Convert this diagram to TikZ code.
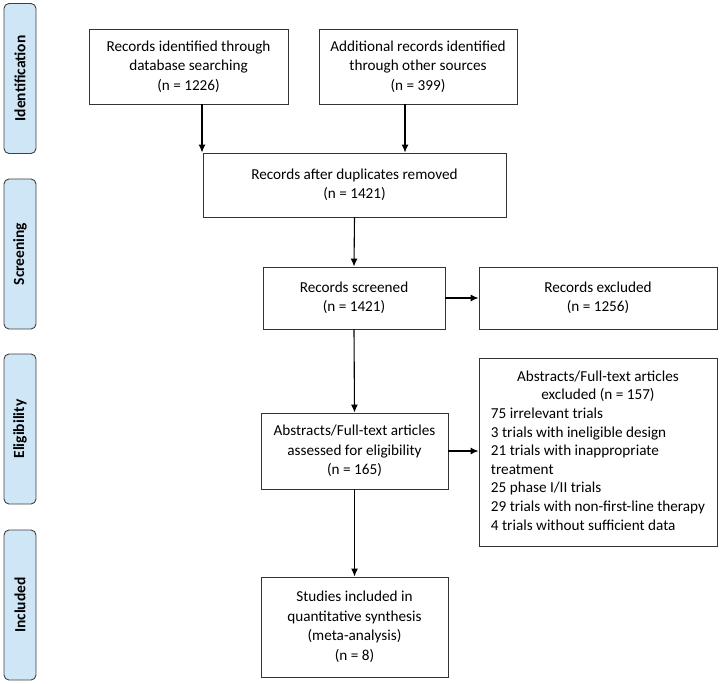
\documentclass[tikz,border=0pt]{standalone}
\usepackage{fontspec}
\setmainfont{Carlito}
\usepackage{tikz}
\usetikzlibrary{arrows.meta}
\definecolor{phaseblue}{RGB}{207,230,247}

\begin{document}
\begin{tikzpicture}[x=1pt,y=-1pt,
	box/.style={draw=black!80,line width=0.9pt,align=center,inner sep=4pt,
		font=\fontsize{15.2}{19.5}\selectfont},
	phase/.style={draw=black!75,line width=0.9pt,fill=phaseblue,rounded corners=5pt,
		minimum width=32pt,minimum height=150pt},
	phasetext/.style={rotate=90,font=\fontsize{15.5}{18}\selectfont\bfseries},
	arr/.style={line width=1.1pt,-{Latex[length=8pt,width=7pt]}}]
	\useasboundingbox (0,0) rectangle (722,684);
	% phases on the left
	\node[phase] (ident) at (20,78.5) {};
	\node[phasetext] at (ident) {Identification};
	\node[phase] (screen) at (20,254) {};
	\node[phasetext] at (screen) {Screening};
	\node[phase] (elig) at (20,429) {};
	\node[phasetext] at (elig) {Eligibility};
	\node[phase] (incl) at (20,605) {};
	\node[phasetext] at (incl) {Included};
	% boxes
	\node[box,minimum width=199pt,minimum height=75pt] (db) at (188.5,66.5)
		{Records identified through\\database searching\\(n = 1226)};
	\node[box,minimum width=198pt,minimum height=75pt] (other) at (418,66.5)
		{Additional records identified\\through other sources\\(n = 399)};
	\node[box,minimum width=303pt,minimum height=64pt] (dup) at (354.5,185)
		{Records after duplicates removed\\(n = 1421)};
	\node[box,minimum width=182pt,minimum height=62pt] (scr) at (354,298)
		{Records screened\\(n = 1421)};
	\node[box,minimum width=238pt,minimum height=62pt] (exc) at (598,298)
		{Records excluded\\(n = 1256)};
	\node[box,minimum width=187pt,minimum height=76pt] (full) at (354.5,451)
		{Abstracts/Full-text articles\\assessed for eligibility\\(n = 165)};
	\node[box,minimum width=238pt,minimum height=188pt,
		font=\fontsize{15.2}{18.6}\selectfont] (fexc) at (598,452)
		{\begin{tabular}{@{}l@{}}
		 \multicolumn{1}{c}{Abstracts/Full-text articles}\\
		 \multicolumn{1}{c}{excluded (n = 157)}\\
		 75 irrelevant trials\\
		 3 trials with ineligible design\\
		 21 trials with inappropriate\\
		 treatment\\
		 25 phase I/II trials\\
		 29 trials with non-first-line therapy\\
		 4 trials without sufficient data
		 \end{tabular}};
	\node[box,minimum width=187pt,minimum height=100pt] (syn) at (354.5,627)
		{Studies included in\\quantitative synthesis\\(meta-analysis)\\(n = 8)};
	% arrows
	\draw[arr] ([xshift=13.5pt]db.south) -- ([xshift=13.5pt]db.south |- dup.north);
	\draw[arr] ([xshift=-13pt]other.south) -- ([xshift=-13pt]other.south |- dup.north);
	\draw[arr] (dup.south) -- (scr.north);
	\draw[arr] (scr.east) -- (exc.west);
	\draw[arr] (scr.south) -- (full.north);
	\draw[arr] (full.east) -- (full.east -| fexc.west);
	\draw[arr] (full.south) -- (syn.north);
\end{tikzpicture}
\end{document}
